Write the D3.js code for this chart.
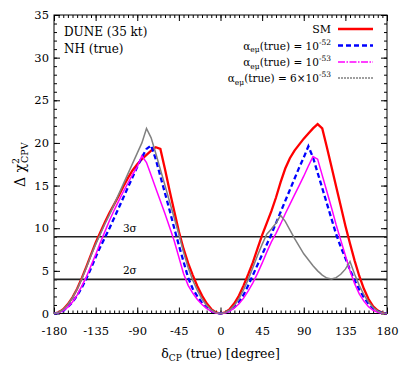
<!DOCTYPE html>
<html>
<head>
  <meta charset="utf-8">
  <title>DUNE CPV sensitivity</title>
  <script src="https://cdn.jsdelivr.net/npm/d3@7"></script>
  <style>
    html, body { margin: 0; padding: 0; background: #fff; }
  </style>
</head>
<body>
<div id="chart"></div>
<script>
// delta_CP (true) grid in degrees
const deltaCP = [-180, -175, -170, -165, -160, -155, -150, -145, -140, -135, -130, -125, -120, -115, -110, -105, -100, -95, -90, -85, -80, -75, -70, -65, -60, -55, -50, -45, -40, -35, -30, -25, -20, -15, -10, -5,
  0, 5, 10, 15, 20, 25, 30, 35, 40, 45, 50, 55, 60, 65, 70, 75, 80, 85, 90, 95, 100, 105, 110, 115, 120, 125, 130, 135, 140, 145, 150, 155, 160, 165, 170, 175, 180];

// delta chi^2 values
const smVals = [0, 0.12, 0.5, 1.1, 1.9, 2.9, 4.15, 5.5, 6.9, 8.3, 9.5, 10.7, 11.8, 12.8, 13.8, 14.9, 15.9, 16.8, 17.5, 18.1, 18.6, 19.1, 19.5, 19.3, 16.9, 14.4, 12.0, 9.6, 7.6, 5.9, 4.5, 3.2, 2.1, 1.2, 0.52, 0.13,
  0, 0.13, 0.52, 1.2, 2.1, 3.3, 4.6, 6.0, 7.6, 9.2, 10.6, 12.0, 13.6, 15.4, 17.0, 18.2, 19.1, 19.8, 20.5, 21.1, 21.7, 22.2, 21.7, 19.5, 17.2, 14.9, 12.6, 10.3, 8.2, 6.2, 4.4, 2.9, 1.7, 0.85, 0.35, 0.08, 0];
const a52Vals = [0, 0.08, 0.33, 0.75, 1.35, 2.1, 3.0, 4.1, 5.3, 6.6, 7.8, 8.9, 10.0, 11.2, 12.4, 13.6, 14.8, 16.0, 17.2, 18.3, 19.3, 19.7, 18.1, 16.1, 14.1, 12.1, 10.0, 8.0, 6.1, 4.2, 2.9, 2.0, 1.25, 0.7, 0.3, 0.07,
  0, 0.08, 0.33, 0.75, 1.35, 2.2, 3.3, 4.5, 5.7, 6.9, 8.1, 9.3, 10.6, 11.9, 13.2, 14.5, 15.8, 17.1, 18.3, 19.6, 18.3, 16.5, 14.7, 12.9, 11.1, 9.3, 7.8, 6.5, 5.1, 3.9, 2.8, 1.9, 1.15, 0.6, 0.25, 0.06, 0];
const a53Vals = [0, 0.08, 0.33, 0.75, 1.35, 2.15, 3.2, 4.3, 5.6, 6.9, 8.3, 9.6, 10.9, 12.1, 13.2, 14.3, 15.3, 16.3, 17.2, 18.5, 17.7, 16.2, 14.7, 13.2, 11.7, 10.1, 8.5, 6.6, 4.7, 3.3, 2.4, 1.65, 1.05, 0.6, 0.26, 0.06,
  0, 0.07, 0.28, 0.65, 1.15, 1.8, 2.65, 3.6, 4.7, 5.9, 7.2, 8.4, 9.4, 10.5, 11.7, 12.8, 13.9, 15.0, 16.1, 17.3, 18.4, 18.1, 16.2, 14.3, 12.4, 10.4, 8.6, 6.8, 5.0, 3.5, 2.3, 1.45, 0.8, 0.38, 0.14, 0.03, 0];
const a6x53Vals = [0, 0.12, 0.48, 1.05, 1.85, 2.85, 4.05, 5.4, 6.8, 8.1, 9.3, 10.5, 11.6, 12.8, 14.0, 15.2, 16.4, 17.6, 18.8, 20.0, 21.7, 20.6, 18.8, 16.9, 15.0, 13.1, 11.2, 9.3, 7.2, 5.4, 3.9, 2.7, 1.7, 0.95, 0.42, 0.1,
  0, 0.1, 0.42, 0.95, 1.75, 2.8, 4.0, 5.4, 6.8, 8.1, 9.3, 9.9, 10.6, 11.5, 10.8, 9.8, 8.8, 7.9, 7.0, 6.3, 5.6, 5.0, 4.5, 4.15, 4.05, 4.2, 4.6, 5.2, 6.1, 4.6, 3.3, 2.2, 1.35, 0.7, 0.28, 0.06, 0];

const xTicks = [-180, -135, -90, -45, 0, 45, 90, 135, 180];
const yTicks = [0, 5, 10, 15, 20, 25, 30, 35];
const sigmaLevels = [9, 4];
const sigmaLabels = ["3σ", "2σ"];

const FONT = "DejaVu Serif";
const W = 407, H = 382;
const margin = {top: 15, right: 20, bottom: 68.5, left: 54};

const svg = d3.select("#chart").append("svg")
  .attr("width", W)
  .attr("height", H)
  .style("font-family", FONT);

const x = d3.scaleLinear().domain([-180, 180]).range([margin.left, W - margin.right]);
const y = d3.scaleLinear().domain([0, 35]).range([H - margin.bottom, margin.top]);

// ticks on all four sides, pointing in
function styleAxis(g) {
  g.attr("font-family", null).attr("font-size", 11.5);
  g.select(".domain").remove();
  g.selectAll(".tick line").attr("stroke", "#000");
  g.selectAll(".tick text").attr("fill", "#000");
}
const xMinor = d3.range(-180, 181, 5);
const yMinor = d3.range(0, 36, 1);

svg.append("g").attr("transform", `translate(0,${y(0)})`)
  .call(d3.axisBottom(x).tickValues(xMinor).tickSize(-3).tickFormat("")).call(styleAxis);
svg.append("g").attr("transform", `translate(0,${y(0)})`)
  .call(d3.axisBottom(x).tickValues(xTicks).tickSize(-6).tickPadding(13).tickFormat(d => String(d))).call(styleAxis);
svg.append("g").attr("transform", `translate(0,${y(35)})`)
  .call(d3.axisTop(x).tickValues(xMinor).tickSize(-3).tickFormat("")).call(styleAxis);
svg.append("g").attr("transform", `translate(0,${y(35)})`)
  .call(d3.axisTop(x).tickValues(xTicks).tickSize(-6).tickFormat("")).call(styleAxis);
svg.append("g").attr("transform", `translate(${x(-180)},0)`)
  .call(d3.axisLeft(y).tickValues(yMinor).tickSize(-3).tickFormat("")).call(styleAxis);
svg.append("g").attr("transform", `translate(${x(-180)},0)`)
  .call(d3.axisLeft(y).tickValues(yTicks).tickSize(-6).tickPadding(5)).call(styleAxis);
svg.append("g").attr("transform", `translate(${x(180)},0)`)
  .call(d3.axisRight(y).tickValues(yMinor).tickSize(-3).tickFormat("")).call(styleAxis);
svg.append("g").attr("transform", `translate(${x(180)},0)`)
  .call(d3.axisRight(y).tickValues(yTicks).tickSize(-6).tickFormat("")).call(styleAxis);

// frame
svg.append("rect")
  .attr("x", x(-180)).attr("y", y(35))
  .attr("width", x(180) - x(-180)).attr("height", y(0) - y(35))
  .attr("fill", "none").attr("stroke", "#000").attr("stroke-width", 1);

// 3 sigma / 2 sigma lines
svg.selectAll(".sig").data(sigmaLevels).join("line")
  .attr("x1", x(-180)).attr("x2", x(180))
  .attr("y1", d => y(d)).attr("y2", d => y(d))
  .attr("stroke", "#222").attr("stroke-width", 1.6);
svg.selectAll(".siglab").data(sigmaLevels).join("text")
  .attr("x", x(-98)).attr("y", d => y(d) - 5)
  .attr("text-anchor", "middle").attr("font-size", 10.5)
  .text((d, i) => sigmaLabels[i]);

// curves
const series = [
  {vals: smVals, color: "#ff0000", width: 2.3, dash: null, legendDash: null},
  {vals: a52Vals, color: "#0000ff", width: 2.3, dash: "5,3", legendDash: "5,3"},
  {vals: a53Vals, color: "#ff00ff", width: 1.5, dash: null, legendDash: "7,1.5,1.5,1.5"},
  {vals: a6x53Vals, color: "#808080", width: 1.5, dash: null, legendDash: "2,1"}
];

const line = d3.line()
  .x((d, i) => x(deltaCP[i]))
  .y(d => y(d));

svg.selectAll(".curve").data(series).join("path")
  .attr("fill", "none")
  .attr("stroke", d => d.color)
  .attr("stroke-width", d => d.width)
  .attr("stroke-dasharray", d => d.dash)
  .attr("d", d => line(d.vals));

// legend
const legendY = [29, 45.5, 62, 78];
const lg = svg.append("g").attr("font-size", 10.5);
series.forEach((s, i) => {
  lg.append("line")
    .attr("x1", 338).attr("x2", 373)
    .attr("y1", legendY[i]).attr("y2", legendY[i])
    .attr("stroke", s.color).attr("stroke-width", s.width)
    .attr("stroke-dasharray", s.legendDash);
});
lg.append("text").attr("x", 331).attr("y", legendY[0] + 4)
  .attr("text-anchor", "end").attr("font-size", 11).text("SM");
const alphaRows = [["", "-52"], ["", "-53"], ["6×", "-53"]];
alphaRows.forEach((r, i) => {
  const t = lg.append("text").attr("x", 331).attr("y", legendY[i + 1] + 4)
    .attr("text-anchor", "end");
  t.append("tspan").text("α");
  t.append("tspan").attr("font-size", 7.5).attr("dy", 2.5).text("eμ");
  t.append("tspan").attr("dy", -2.5).text("(true) = " + r[0] + "10");
  t.append("tspan").attr("font-size", 7.5).attr("dy", -5).text(r[1]);
});

// top-left labels
svg.append("text").attr("x", 64).attr("y", 36).attr("font-size", 12).text("DUNE (35 kt)");
svg.append("text").attr("x", 64).attr("y", 53).attr("font-size", 12).text("NH (true)");

// x title
const xt = svg.append("text").attr("x", x(0)).attr("y", 358)
  .attr("text-anchor", "middle").attr("font-size", 12.5);
xt.append("tspan").text("δ");
xt.append("tspan").attr("font-size", 9).attr("dy", 3).text("CP");
xt.append("tspan").attr("dy", -3).text(" (true) [degree]");

// y title
const yt = svg.append("text")
  .attr("transform", "translate(25,187) rotate(-90)")
  .attr("font-size", 14);
yt.append("tspan").text("Δ χ");
yt.append("tspan").attr("font-size", 9.5).attr("dy", -6).text("2");
yt.append("tspan").attr("font-size", 9.5).attr("dy", 9).attr("dx", -5).text("CPV");
</script>
</body>
</html>
